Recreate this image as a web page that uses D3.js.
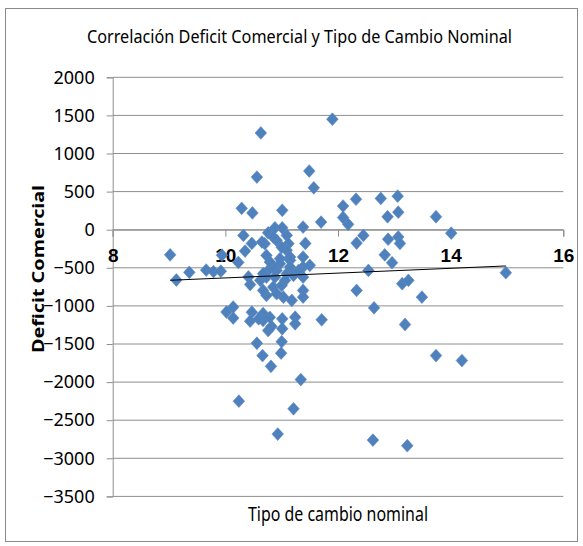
<!DOCTYPE html>
<html>
<head>
<meta charset="utf-8">
<script src="https://cdn.jsdelivr.net/npm/d3@7"></script>
<style>
  html, body { margin: 0; padding: 0; background: #fff; }
  svg { display: block; }
</style>
</head>
<body>
<svg id="chart" width="583" height="546"></svg>
<script>
// ---- data ----
const tipoCambio = [
  9.02, 9.13, 9.36, 9.66, 9.79, 9.92, 9.94, 10.02, 10.14, 10.14, 10.24, 10.23,
  10.29, 10.48, 10.56, 10.63, 11.01, 11.90, 11.49, 11.57, 12.09, 12.32, 12.76, 13.06,
  13.07, 12.88, 13.74, 12.09, 12.18, 11.70, 11.38,
  10.32, 10.47, 10.35, 10.41, 10.44,
  14.01, 12.89, 13.07, 13.10, 12.33, 12.45, 11.42, 12.83, 12.96, 12.54, 12.33, 13.14,
  13.25, 13.49, 12.64, 11.71, 13.19, 13.74, 14.20, 14.98, 11.34, 11.21, 10.93, 12.62, 13.23,
  11.38, 11.38, 11.50, 11.38, 11.38, 11.38,
  11.24, 11.24, 11.00, 10.99, 10.56, 10.66, 10.81, 11.03, 11.01, 11.01, 10.47, 10.44,
  10.67, 10.67, 10.79, 10.76, 10.82, 10.59,
  10.76, 10.88, 11.01, 11.09, 11.12, 10.70, 10.91, 11.00, 10.65, 10.85, 11.09, 11.15,
  10.73, 10.97, 11.15, 10.91, 11.09, 10.73, 10.85, 10.73, 11.18, 11.00, 10.62, 10.79,
  10.67, 10.91, 11.06, 11.21, 11.30, 10.97, 10.85, 11.15, 10.67, 10.79, 10.88
];
const deficit = [
  -330, -660, -560, -530, -550, -545, -335, -1080, -1015, -1160, -2250, -430,
  280, 220, 690, 1270, 255, 1450, 770, 550, 310, 400, 410, 440,
  230, 170, 170, 160, 70, 100, 35,
  -75, -180, -280, -620, -720,
  -45, -125, -95, -180, -175, -75, -180, -330, -433, -534, -797, -709,
  -665, -885, -1025, -1182, -1244, -1652, -1717, -564, -1967, -2350, -2682, -2761, -2835,
  -359, -490, -468, -622, -797, -885,
  -1148, -1235, -1470, -1620, -1490, -1652, -1793, -885, -1170, -1300, -1082, -1200,
  -1100, -1190, -1150, -1323, -1270, -1169,
  -41, 25, 25, -74, -183, -183, -139, -231, -162, -96, -271, -359,
  -337, -380, -402, -534, -577, -622, -753, -863, -928, -731, -665, -512,
  -797, -840, -665, -600, -534, -446, -490, -490, -577, -424, -622
];
const xTickValues = [8, 10, 12, 14, 16];
const yTickValues = [2000, 1500, 1000, 500, 0, -500, -1000, -1500, -2000, -2500, -3000, -3500];
const titleText = "Correlación Deficit Comercial y Tipo de Cambio Nominal";
const xTitle = "Tipo de cambio nominal";
const yTitle = "Deficit Comercial";

// ---- layout ----
const svg = d3.select("#chart");
const plot = { left: 112.7, right: 563.3, top: 77.3, bottom: 496.4 };
const x = d3.scaleLinear().domain([8, 16]).range([plot.left, plot.right]);
const y = d3.scaleLinear().domain([-3500, 2000]).range([plot.bottom, plot.top]);
const gridColor = "#8e8e8e";

// outer border
svg.append("rect")
  .attr("x", 5.5).attr("y", 8.5).attr("width", 572).attr("height", 533)
  .attr("fill", "#fff").attr("stroke", "#8a8a8a").attr("stroke-width", 1);

// title
svg.append("text")
  .attr("x", 299.5).attr("y", 42.5)
  .attr("text-anchor", "middle")
  .attr("font-family", "'Noto Sans', sans-serif")
  .attr("font-size", 18.5)
  .attr("textLength", 425).attr("lengthAdjust", "spacingAndGlyphs")
  .attr("fill", "#000")
  .text(titleText);

// horizontal gridlines
svg.append("g").selectAll("line").data(yTickValues).join("line")
  .attr("x1", plot.left).attr("x2", plot.right)
  .attr("y1", d => y(d)).attr("y2", d => y(d))
  .attr("stroke", gridColor).attr("stroke-width", 1);

// y axis
const yAxis = d3.axisLeft(y).tickValues(yTickValues).tickSize(6).tickPadding(12)
  .tickFormat(d3.format("d"));
const gy = svg.append("g").attr("transform", `translate(${plot.left},0)`).call(yAxis);
gy.select(".domain").attr("stroke", gridColor);
gy.selectAll(".tick line").attr("stroke", gridColor);
gy.selectAll(".tick text")
  .attr("font-family", "'Noto Sans', sans-serif").attr("font-size", 18)
  .attr("fill", "#000");

// x axis at y = 0
const xAxis = d3.axisBottom(x).tickValues(xTickValues).tickSize(7).tickPadding(22)
  .tickFormat(d3.format("d"));
const gx = svg.append("g").attr("transform", `translate(0,${y(0)})`).call(xAxis);
gx.select(".domain").attr("stroke", gridColor);
gx.selectAll(".tick line").attr("stroke", gridColor);
gx.selectAll(".tick text")
  .attr("font-family", "'Liberation Sans Narrow', 'Liberation Sans', sans-serif")
  .attr("font-weight", "bold").attr("font-size", 19)
  .attr("fill", "#000").attr("dy", "0.2em");

// axis titles
svg.append("text")
  .attr("x", 338).attr("y", 520.5)
  .attr("text-anchor", "middle")
  .attr("font-family", "'Noto Sans', sans-serif")
  .attr("font-size", 19)
  .attr("textLength", 180).attr("lengthAdjust", "spacingAndGlyphs")
  .text(xTitle);

svg.append("text")
  .attr("transform", "translate(43.5,269) rotate(-90)")
  .attr("text-anchor", "middle")
  .attr("font-family", "'Noto Sans', sans-serif")
  .attr("font-weight", "bold")
  .attr("font-size", 16)
  .attr("textLength", 168).attr("lengthAdjust", "spacingAndGlyphs")
  .text(yTitle);

// points (diamond marker, slightly taller than wide like the Excel marker)
const excelDiamond = {
  draw(ctx, size) {
    const w = Math.sqrt(size) / 2, h = w * 1.1;
    ctx.moveTo(0, -h); ctx.lineTo(w, 0); ctx.lineTo(0, h); ctx.lineTo(-w, 0); ctx.closePath();
  }
};
const points = tipoCambio.map((d, i) => ({ x: d, y: deficit[i] }));
const diamond = d3.symbol().type(excelDiamond).size(135);
svg.append("g").selectAll("path").data(points).join("path")
  .attr("transform", d => `translate(${x(d.x)},${y(d.y)})`)
  .attr("d", diamond)
  .attr("fill", "#4f81bd").attr("stroke", "#5a8ac6").attr("stroke-width", 0.6);

// linear trendline (least squares over the data)
const mx = d3.mean(tipoCambio), my = d3.mean(deficit);
let sxy = 0, sxx = 0;
tipoCambio.forEach((v, i) => { sxy += (v - mx) * (deficit[i] - my); sxx += (v - mx) * (v - mx); });
const slope = sxy / sxx, intercept = my - slope * mx;
const [xmin, xmax] = d3.extent(tipoCambio);
svg.append("line")
  .attr("x1", x(xmin)).attr("y1", y(intercept + slope * xmin))
  .attr("x2", x(xmax)).attr("y2", y(intercept + slope * xmax))
  .attr("stroke", "#000").attr("stroke-width", 1);
</script>
</body>
</html>
